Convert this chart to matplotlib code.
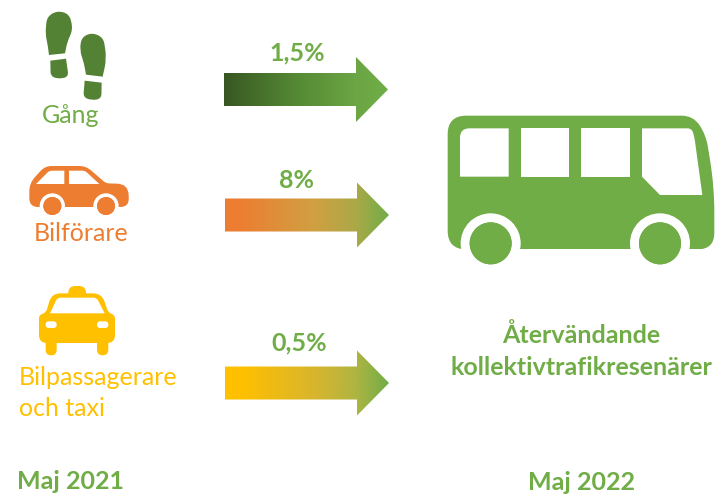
#!/usr/bin/env python3
"""Resor tillbaka till kollektivtrafiken, maj 2021 -> maj 2022"""

import matplotlib
matplotlib.use('Agg')
import matplotlib.pyplot as plt
import numpy as np
from matplotlib.colors import LinearSegmentedColormap
from matplotlib.patches import Circle, PathPatch
from matplotlib.path import Path

plt.rcParams['font.family'] = ['Lato', 'DejaVu Sans']

# data
share_labels = ['1,5%', '8%', '0,5%']
source_lines = [['Gång'], ['Bilförare'], ['Bilpassagerare', 'och taxi']]
target_lines = ['Återvändande', 'kollektivtrafikresenärer']
year_labels = ['Maj 2021', 'Maj 2022']

GREEN = '#70AD47'
DARK_GREEN = '#548235'
ORANGE = '#ED7D31'
YELLOW = '#FFC000'
ARROW_STOPS = [
    [(0, '#385723'), (0.45, '#558A35'), (0.8, '#6BA544'), (1, GREEN)],
    [(0, ORANGE), (0.08, ORANGE), (0.55, '#D0A042'), (0.8, '#ABA948'), (1, GREEN)],
    [(0, YELLOW), (0.1, YELLOW), (0.55, '#D8B52E'), (0.8, '#AEB542'), (1, GREEN)],
]
TEXT_COLORS = [GREEN, ORANGE, YELLOW]


def rounded(points, radii):
    """Path from a polygon, each corner rounded with its own radius"""
    pts = np.array(points, dtype=float)
    n = len(pts)
    verts, codes = [], []
    for i in range(n):
        p, prev, nxt = pts[i], pts[i - 1], pts[(i + 1) % n]
        r = radii[i] if np.ndim(radii) else radii
        if r == 0:
            verts.append(p)
            codes.append(Path.LINETO)
            continue
        d_prev, d_next = np.linalg.norm(prev - p), np.linalg.norm(nxt - p)
        r = min(r, d_prev / 2, d_next / 2)
        a = p + (prev - p) / d_prev * r
        b = p + (nxt - p) / d_next * r
        verts += [a, p, b]
        codes += [Path.LINETO, Path.CURVE3, Path.CURVE3]
    codes[0] = Path.MOVETO
    verts.append(verts[0])
    codes.append(Path.CLOSEPOLY)
    return Path(verts, codes)


def shape(ax, points, radii, color, ox=0, oy=0, zorder=2):
    # points and radii are in 3x zoom units
    pts = [(ox + x / 3, oy + y / 3) for x, y in points]
    radii = np.asarray(radii, dtype=float) / 3
    ax.add_patch(PathPatch(rounded(pts, radii), fc=color, ec='none', zorder=zorder))


def wheel(ax, cx, cy, r, ring, color, zorder=3):
    ax.add_patch(Circle((cx, cy), ring, fc='white', ec='none', zorder=zorder))
    ax.add_patch(Circle((cx, cy), r, fc=color, ec='none', zorder=zorder + 1))


def draw_shoes(ax):
    big = 99
    sole_l = [(136, 100), (141, 50), (172, 32), (208, 42), (219, 88), (202, 125), (195, 160), (147, 165), (143, 135)]
    heel_l = [(151, 182), (198, 176), (206, 232), (172, 236), (152, 228)]
    sole_r = [(239, 150), (245, 112), (275, 98), (310, 112), (320, 175), (308, 230), (258, 224), (252, 190)]
    heel_r = [(254, 242), (305, 248), (304, 296), (276, 301), (250, 292)]
    shape(ax, sole_l, [big, big, big, big, big, big, 0, 0, big], DARK_GREEN)
    shape(ax, heel_l, [0, 0, big, big, big], DARK_GREEN)
    shape(ax, sole_r, [big, big, big, big, big, 0, 0, big], DARK_GREEN)
    shape(ax, heel_r, [0, 0, big, big, big], DARK_GREEN)


def draw_car(ax):
    body = [(88, 550), (135, 498), (258, 498), (318, 550), (385, 552), (387, 621), (88, 621)]
    shape(ax, body, [24, 20, 20, 10, 60, 26, 26], ORANGE)
    shape(ax, [(108, 552), (193, 552), (193, 512), (148, 512)], [0, 0, 0, 8], 'white', zorder=3)
    shape(ax, [(207, 552), (298, 552), (255, 512), (207, 512)], [0, 0, 8, 0], 'white', zorder=3)
    wheel(ax, 157 / 3, 618 / 3, 27 / 3, 38 / 3, ORANGE)
    wheel(ax, 318 / 3, 618 / 3, 27 / 3, 38 / 3, ORANGE)
    ax.fill_between([30, 135], 621 / 3, 217, color='white', zorder=3.5, lw=0)
    for cx in (157, 318):
        ax.add_patch(Circle((cx / 3, 618 / 3), 27 / 3, fc=ORANGE, ec='none', zorder=4))


def draw_taxi(ax):
    oy = 270
    shape(ax, [(205, 90), (205, 48), (258, 48), (258, 90)], [0, 24, 24, 0], YELLOW, oy=oy)
    shape(ax, [(155, 70), (305, 70), (325, 128), (345, 135), (345, 219), (117, 219), (117, 135), (138, 128)],
          [26, 26, 12, 26, 24, 24, 26, 12], YELLOW, oy=oy)
    shape(ax, [(172, 83), (290, 83), (314, 130), (150, 130)], [10, 10, 0, 0], 'white', oy=oy, zorder=3)
    for x0, x1 in [(137, 170), (291, 325)]:
        shape(ax, [(x0, 154), (x1, 154), (x1, 174), (x0, 174)], 20, 'white', oy=oy, zorder=3)
        shape(ax, [(x0, 200), (x1, 200), (x1, 256), (x0, 256)], [0, 0, 24, 24], YELLOW, oy=oy)


def draw_bus(ax):
    ox, oy = 430, 100
    outer = [(53, 47), (790, 47), (828, 105), (853, 260), (853, 448), (53, 448)]
    shape(ax, outer, [56, 60, 35, 80, 50, 56], GREEN, ox, oy)
    shape(ax, [(90, 85), (236, 85), (236, 230), (90, 230)], [28, 0, 0, 0], 'white', ox, oy, 3)
    shape(ax, [(272, 85), (417, 85), (417, 230), (272, 230)], 0, 'white', ox, oy, 3)
    shape(ax, [(454, 85), (600, 85), (600, 230), (454, 230)], 0, 'white', ox, oy, 3)
    shape(ax, [(636, 85), (785, 85), (793, 110), (817, 285), (690, 285), (636, 230)],
          [0, 30, 20, 0, 0, 0], 'white', ox, oy, 3)
    for cx in (182, 690):
        wheel(ax, ox + cx / 3, oy + 430 / 3, 63 / 3, 90 / 3, GREEN)
    ax.fill_between([440, 716], oy + 448 / 3, 275, color='white', zorder=3.5, lw=0)
    for cx in (182, 690):
        ax.add_patch(Circle((ox + cx / 3, oy + 430 / 3), 63 / 3, fc=GREEN, ec='none', zorder=4))


def draw_arrow(ax, x0, x1, x2, yc, stops):
    half_shaft, half_head = 16.5, 32.5
    pts = [(x0, yc - half_shaft), (x1, yc - half_shaft), (x1, yc - half_head), (x2, yc),
           (x1, yc + half_head), (x1, yc + half_shaft), (x0, yc + half_shaft)]
    cmap = LinearSegmentedColormap.from_list('arrow', stops)
    im = ax.imshow(np.linspace(0, 1, 256)[None, :], cmap=cmap, aspect='auto', zorder=2,
                   extent=(x0, x2, yc + half_head, yc - half_head))
    clip = PathPatch(Path(pts + [pts[0]], closed=True), transform=ax.transData, fc='none', ec='none')
    ax.add_patch(clip)
    im.set_clip_path(clip)


def main():
    fig = plt.figure(figsize=(7.16, 4.94), dpi=100)
    ax = fig.add_axes([0, 0, 1, 1])

    draw_shoes(ax)
    draw_car(ax)
    draw_taxi(ax)
    draw_bus(ax)

    for (x0, yc), stops in zip([(224, 89.5), (225, 215), (225, 383)], ARROW_STOPS):
        draw_arrow(ax, x0, x0 + 132, x0 + 164, yc, stops)

    ax.set_xlim(0, 716)
    ax.set_ylim(494, 0)
    ax.axis('off')

    size = 18
    base = dict(fontsize=size, va='baseline', zorder=6)
    ax.text(71, 123, source_lines[0][0], color=TEXT_COLORS[0], ha='center', **base)
    ax.text(81, 241, source_lines[1][0], color=TEXT_COLORS[1], ha='center', **base)
    ax.text(19, 385, source_lines[2][0], color=TEXT_COLORS[2], ha='left', **base)
    ax.text(19, 416, source_lines[2][1], color=TEXT_COLORS[2], ha='left', **base)

    bold = dict(fontsize=size, va='baseline', ha='center', fontweight='bold', color=GREEN, zorder=6)
    for x, y, label in zip([297, 297, 299], [60, 188, 350], share_labels):
        ax.text(x, y, label, **bold)
    ax.text(581, 343, target_lines[0], **bold)
    ax.text(581, 375, target_lines[1], **bold)
    ax.text(70.5, 489, year_labels[0], **bold)
    ax.text(581, 490, year_labels[1], **bold)

    fig.savefig('out.png', dpi=100, facecolor='white')
    plt.close(fig)


if __name__ == '__main__':
    main()
